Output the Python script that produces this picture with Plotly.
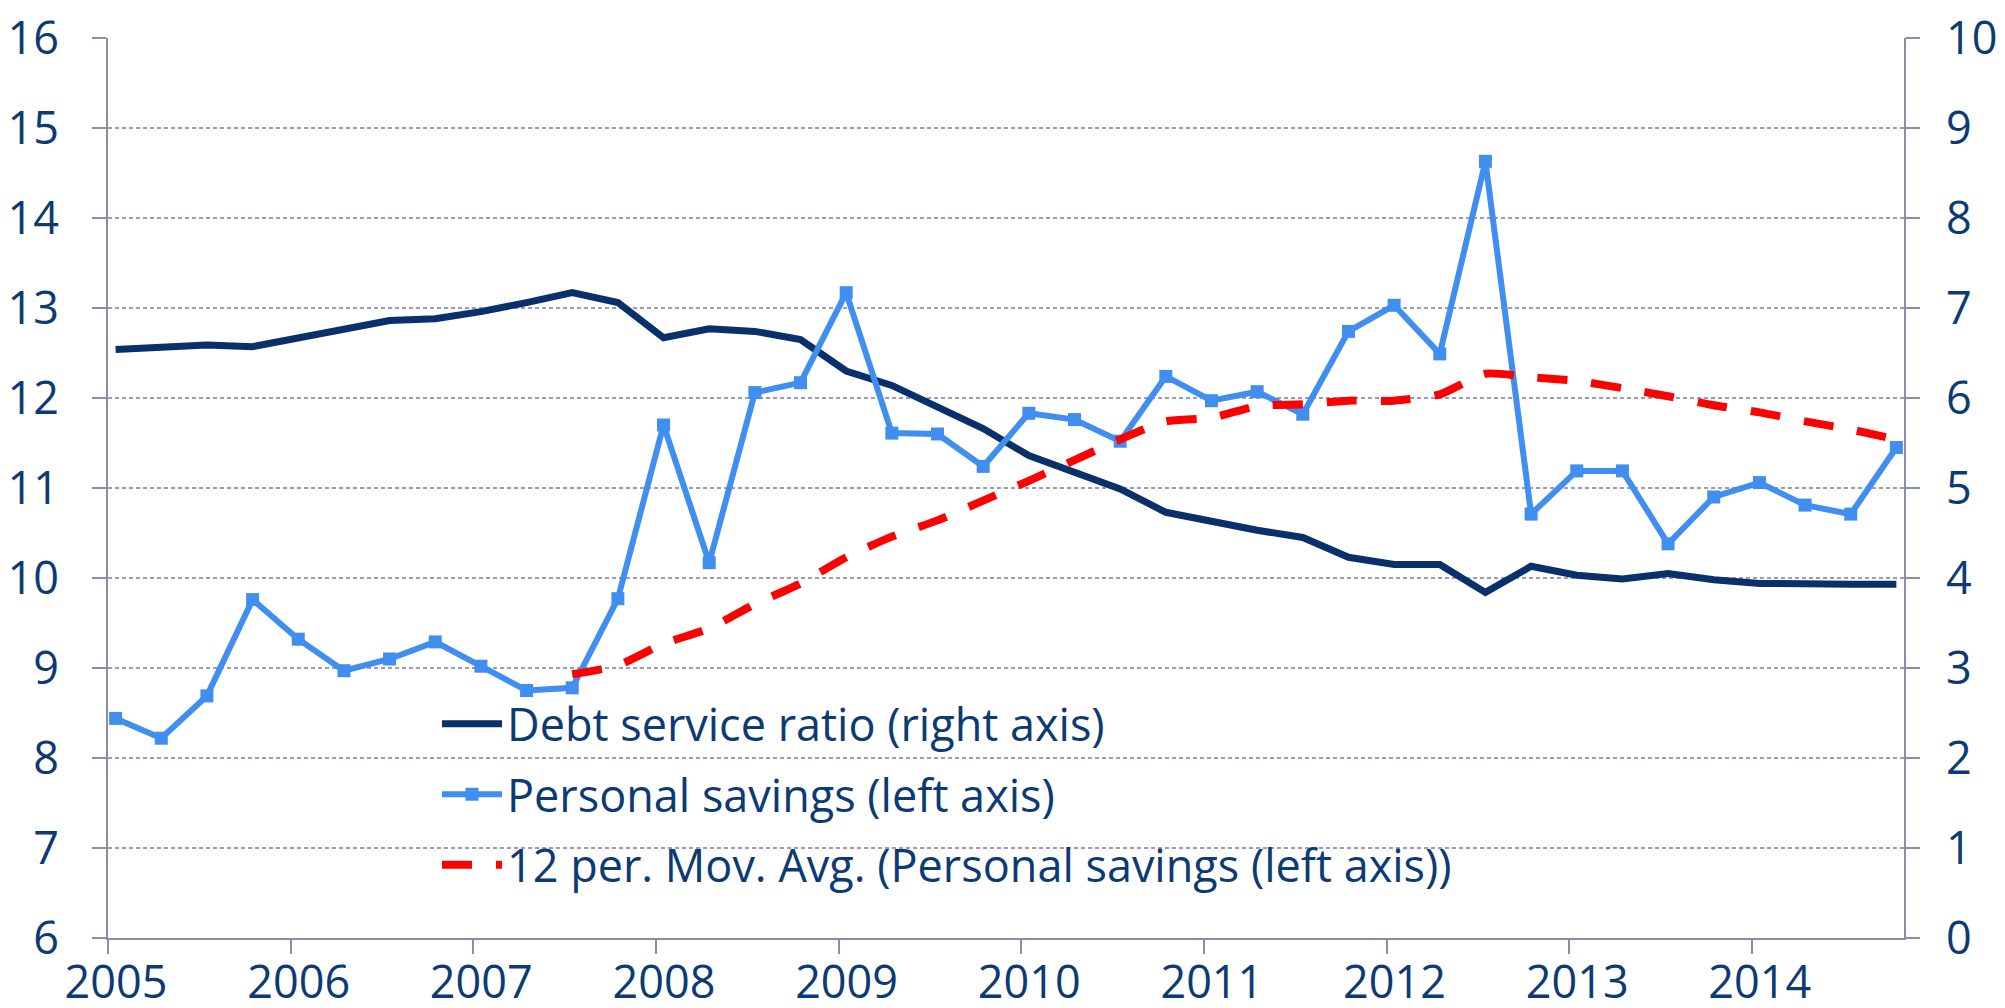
import plotly.graph_objects as go

# Quarterly periods 2005Q1 .. 2014Q4
years = [y for y in range(2005, 2015) for _ in range(4)]
quarter_mid_month = [0.5, 3.5, 6.5, 9.5] * 10  # month offset of each quarter's first month midpoint

debt_service = [6.54, 6.56, 6.59, 6.57, 6.67, 6.77, 6.86, 6.88, 6.96, 7.06,
                7.17, 7.06, 6.67, 6.77, 6.74, 6.65, 6.30, 6.14, 5.90, 5.66,
                5.36, 5.17, 4.99, 4.73, 4.63, 4.53, 4.45, 4.23, 4.15, 4.15,
                3.84, 4.13, 4.03, 3.99, 4.05, 3.98, 3.94, 3.93, 3.93, 3.93]

personal_savings = [8.44, 8.22, 8.69, 9.76, 9.32, 8.97, 9.10, 9.29, 9.02, 8.75,
                    8.78, 9.77, 11.70, 10.17, 12.06, 12.17, 13.17, 11.61, 11.60, 11.24,
                    11.83, 11.76, 11.52, 12.24, 11.97, 12.07, 11.82, 12.74, 13.03, 12.49,
                    14.63, 10.71, 11.19, 11.19, 10.38, 10.90, 11.06, 10.81, 10.71, 11.45]

mov_avg = [None] * 10 + [8.93, 9.03, 9.27, 9.44, 9.71, 9.94, 10.23, 10.46, 10.64, 10.86,
                         11.08, 11.31, 11.54, 11.74, 11.78, 11.91, 11.93, 11.97, 11.97, 12.04,
                         12.27, 12.23, 12.19, 12.11, 12.02, 11.92, 11.84, 11.74, 11.65, 11.54]

year_ticks = list(range(2005, 2015))
year_labels = [str(y) for y in year_ticks]
left_ticks = list(range(6, 17))
right_ticks = list(range(0, 11))

x = [y + m / 12 for y, m in zip(years, quarter_mid_month)]

NAVY = "#08306b"
BLUE = "#3f8ef0"
RED = "#ff0000"
TEXT = "#0b3a75"
GRID = "#9a9db5"
AXIS = "#8a8fa8"
FONT = "Open Sans"
TICKSIZE = 45

fig = go.Figure()

fig.add_trace(go.Scatter(
    x=x, y=debt_service, name="Debt service ratio (right axis)",
    mode="lines", line=dict(color=NAVY, width=7), yaxis="y",
    legendgroup="a"))

fig.add_trace(go.Scatter(
    x=x, y=personal_savings, name="Personal savings (left axis)",
    mode="lines+markers", line=dict(color=BLUE, width=6),
    marker=dict(symbol="square", size=13, color=BLUE), yaxis="y2",
    legendgroup="b"))

fig.add_trace(go.Scatter(
    x=x, y=mov_avg, name="12 per. Mov. Avg. (Personal savings (left axis))",
    mode="lines", line=dict(color=RED, width=8, dash="30px,24px", shape="spline", smoothing=0.6),
    yaxis="y2", connectgaps=False, legendgroup="c"))

fig.update_layout(
    width=2005, height=1008,
    margin=dict(l=100, r=109, t=30, b=78),
    paper_bgcolor="white", plot_bgcolor="white",
    font=dict(family=FONT, color=TEXT, size=TICKSIZE),
    showlegend=True,
    legend=dict(
        x=(429 - 100) / 1796, y=(930 - 680) / 900, xanchor="left", yanchor="top",
        bgcolor="rgba(0,0,0,0)", font=dict(size=45, color=TEXT, family=FONT),
        itemwidth=60, tracegroupgap=9,
    ),
    xaxis=dict(
        range=[2005, 2014 + 10 / 12], tickvals=year_ticks, ticktext=year_labels,
        showgrid=False, showline=True, linecolor=AXIS, linewidth=2,
        ticks="outside", ticklen=14, tickcolor=AXIS, tickwidth=2,
        tickfont=dict(size=TICKSIZE, color=TEXT, family=FONT), ticklabelshift=8,
        ticklabelstandoff=-10, ticklabeloverflow="allow",
        zeroline=False, automargin=False,
    ),
    yaxis=dict(
        range=[0, 10], tickvals=right_ticks, side="right",
        showgrid=False, showline=True, linecolor=AXIS, linewidth=2,
        ticks="outside", ticklen=14, tickcolor=AXIS, tickwidth=2,
        tickfont=dict(size=TICKSIZE, color=TEXT, family=FONT), ticklabelstandoff=17,
        ticklabeloverflow="allow", zeroline=False, automargin=False,
    ),
    yaxis2=dict(
        range=[6, 16], tickvals=left_ticks, side="left", overlaying="y",
        showgrid=True, gridcolor=GRID, gridwidth=2, griddash="4px,3px",
        showline=True, linecolor=AXIS, linewidth=2,
        ticks="outside", ticklen=14, tickcolor=AXIS, tickwidth=2,
        tickfont=dict(size=TICKSIZE, color=TEXT, family=FONT), ticklabelstandoff=24,
        ticklabeloverflow="allow", zeroline=False, automargin=False,
    ),
)

fig.write_html("out.html")
